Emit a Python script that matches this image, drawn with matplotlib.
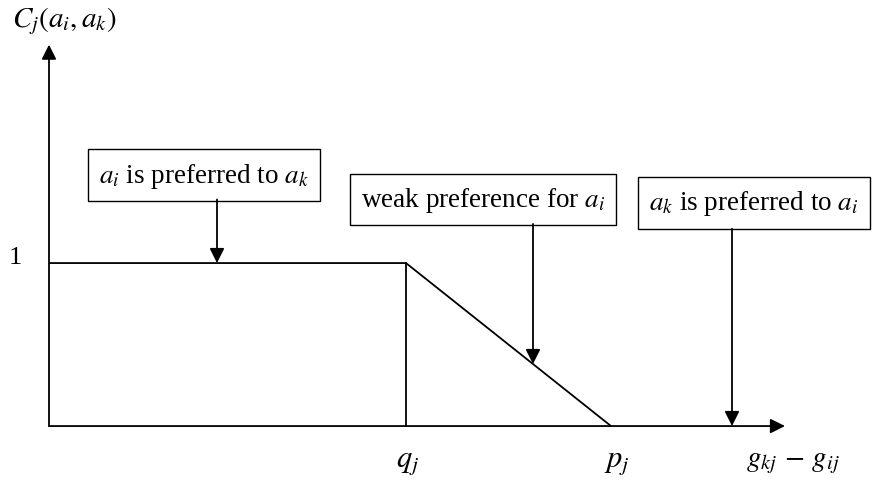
import numpy as np
import matplotlib
matplotlib.use('Agg')
import matplotlib.pyplot as plt

plt.rcParams['font.family'] = ['Liberation Serif', 'DejaVu Serif']
plt.rcParams['mathtext.fontset'] = 'stix'

# preference function (usual criterion with linear transition)
q_j = 3.57
p_j = 5.62
curve_x = [0, q_j, p_j]
curve_y = [1, 1, 0]
x_end = 7.36
y_end = 2.34

# annotation boxes: text, box centre, arrow x position
box_text = [r'$a_i$ is preferred to $a_k$',
            r'weak preference for $a_i$',
            r'$a_k$ is preferred to $a_i$']
box_xy = [(1.55, 1.54), (4.34, 1.39), (7.05, 1.37)]
box_bottom = [1.39, 1.24, 1.21]
arrow_x = [1.68, 4.84, 6.83]

fig = plt.figure(figsize=(8.72, 4.81), dpi=100)
ax = fig.add_axes([0, 0, 1, 1])
ax.set_xlim(-0.49, 8.23)
ax.set_ylim(-0.331, 2.620)
ax.axis('off')

lw = 1.3
ap = dict(arrowstyle='-|>', mutation_scale=22, lw=lw, color='black',
          shrinkA=0, shrinkB=0)

# axes with arrow heads
ax.annotate('', xy=(x_end, 0), xytext=(0, 0), arrowprops=ap)
ax.annotate('', xy=(0, y_end), xytext=(0, 0), arrowprops=ap)

# preference curve
ax.plot(curve_x, curve_y, color='black', lw=lw, solid_capstyle='butt')
ax.plot([q_j, q_j], [0, 1], color='black', lw=lw)

# boxes and arrows
for txt, (bx, by), yb, axx in zip(box_text, box_xy, box_bottom, arrow_x):
    ax.text(bx, by, txt, fontsize=19.5, ha='center', va='center',
            bbox=dict(boxstyle='square,pad=0.42', fc='white', ec='black', lw=1.0))
    tip = np.interp(axx, curve_x + [x_end], curve_y + [0])
    ax.annotate('', xy=(axx, tip), xytext=(axx, yb), arrowprops=ap)

# labels
ax.text(-0.37, 2.49, r'$C_j(a_i,a_k)$', fontsize=21, ha='left', va='center')
ax.text(-0.34, 1.04, '1', fontsize=19, ha='center', va='center')
ax.text(q_j + 0.02, -0.22, r'$q_j$', fontsize=22, ha='center', va='center')
ax.text(p_j + 0.06, -0.22, r'$p_j$', fontsize=22, ha='center', va='center')
ax.text(7.44, -0.22, r'$g_{kj}\,-\,g_{ij}$', fontsize=21, ha='center', va='center')

fig.savefig('out.png', dpi=100)
